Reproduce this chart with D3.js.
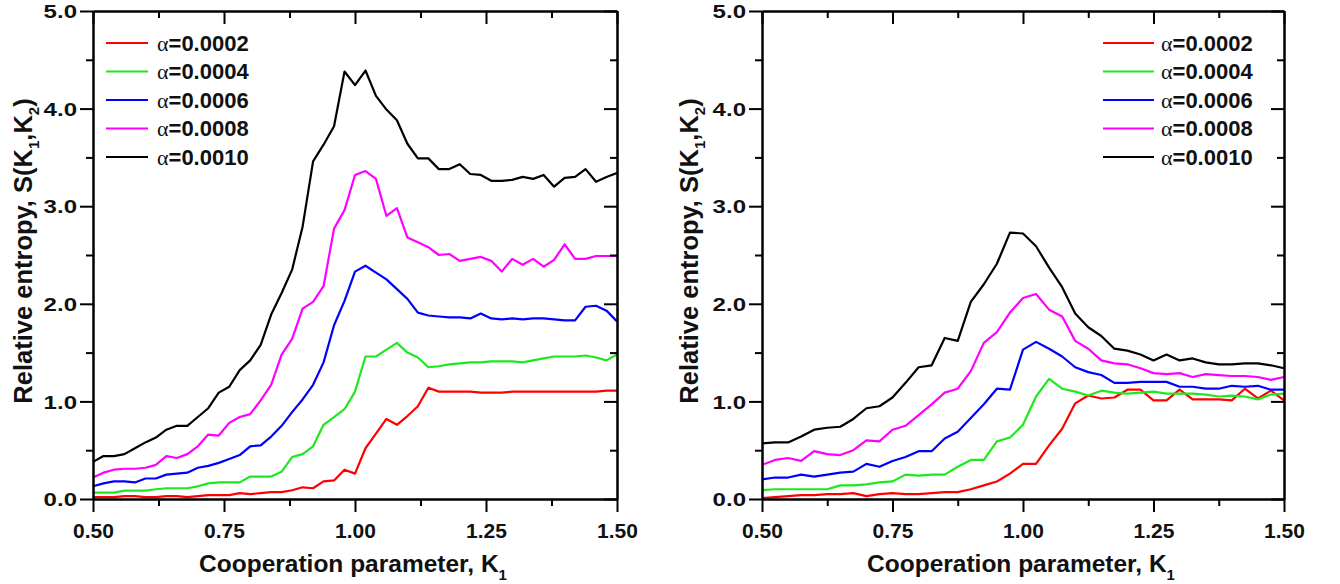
<!DOCTYPE html>
<html lang="en">
<head>
<meta charset="utf-8">
<title>Relative entropy</title>
<script src="https://cdn.jsdelivr.net/npm/d3@7"></script>
<style>
  body { margin: 0; background: #fff; }
  text { font-family: Arial, "Liberation Sans", sans-serif; font-weight: bold; fill: #111; }
</style>
</head>
<body>
<svg id="chart" width="1340" height="584"></svg>
<script>
// cooperation parameter grids (left panel: 0.02 steps, right panel: 0.025 steps)
var kLeft = [0.50,0.52,0.54,0.56,0.58,0.60,0.62,0.64,0.66,0.68,
             0.70,0.72,0.74,0.76,0.78,0.80,0.82,0.84,0.86,0.88,
             0.90,0.92,0.94,0.96,0.98,1.00,1.02,1.04,1.06,1.08,
             1.10,1.12,1.14,1.16,1.18,1.20,1.22,1.24,1.26,1.28,
             1.30,1.32,1.34,1.36,1.38,1.40,1.42,1.44,1.46,1.48,1.50];
var kRight = [0.500,0.525,0.550,0.575,0.600,0.625,0.650,0.675,0.700,0.725,
              0.750,0.775,0.800,0.825,0.850,0.875,0.900,0.925,0.950,0.975,
              1.000,1.025,1.050,1.075,1.100,1.125,1.150,1.175,1.200,1.225,
              1.250,1.275,1.300,1.325,1.350,1.375,1.400,1.425,1.450,1.475,1.500];

var alphas = ["0.0002", "0.0004", "0.0006", "0.0008", "0.0010"];
var colors = ["#ff0000", "#1ee81e", "#0000ff", "#ff00ff", "#000000"];

// left panel
var left0002 = [0.02,0.02,0.02,0.03,0.03,0.02,0.02,0.03,0.03,0.02,
                0.03,0.04,0.04,0.04,0.06,0.05,0.06,0.07,0.07,0.09,
                0.12,0.11,0.18,0.19,0.30,0.26,0.52,0.67,0.82,0.76,
                0.85,0.95,1.14,1.10,1.10,1.10,1.10,1.09,1.09,1.09,
                1.10,1.10,1.10,1.10,1.10,1.10,1.10,1.10,1.10,1.11,1.11];
var left0004 = [0.065,0.065,0.065,0.085,0.085,0.085,0.10,0.11,0.11,0.11,
                0.13,0.16,0.17,0.17,0.17,0.23,0.23,0.23,0.28,0.43,
                0.46,0.54,0.76,0.84,0.92,1.10,1.46,1.46,1.53,1.60,
                1.50,1.45,1.35,1.36,1.38,1.39,1.40,1.40,1.41,1.41,
                1.41,1.40,1.42,1.44,1.46,1.46,1.46,1.47,1.45,1.42,1.48];
var left0006 = [0.13,0.16,0.18,0.18,0.17,0.21,0.21,0.25,0.26,0.27,
                0.32,0.34,0.37,0.41,0.45,0.54,0.55,0.64,0.75,0.89,
                1.02,1.17,1.40,1.78,2.03,2.33,2.39,2.32,2.25,2.15,
                2.05,1.91,1.88,1.87,1.86,1.86,1.85,1.90,1.85,1.84,
                1.85,1.84,1.85,1.85,1.84,1.83,1.83,1.97,1.98,1.93,1.82];
var left0008 = [0.22,0.27,0.30,0.31,0.31,0.32,0.35,0.44,0.42,0.46,
                0.54,0.66,0.65,0.78,0.84,0.87,1.01,1.17,1.48,1.64,
                1.95,2.02,2.18,2.77,2.96,3.32,3.36,3.28,2.90,2.98,
                2.68,2.63,2.58,2.50,2.51,2.44,2.46,2.48,2.44,2.33,
                2.46,2.40,2.46,2.38,2.45,2.61,2.46,2.46,2.49,2.49,2.49];
var left0010 = [0.38,0.44,0.44,0.46,0.52,0.58,0.63,0.71,0.75,0.75,
                0.84,0.93,1.09,1.15,1.32,1.42,1.58,1.89,2.11,2.35,
                2.79,3.46,3.63,3.82,4.38,4.24,4.39,4.13,3.99,3.88,
                3.64,3.49,3.49,3.38,3.38,3.43,3.33,3.32,3.26,3.26,
                3.27,3.30,3.28,3.32,3.20,3.29,3.30,3.38,3.25,3.30,3.34];

// right panel
var right0002 = [0.01,0.02,0.03,0.04,0.04,0.05,0.05,0.06,0.03,0.05,
                 0.06,0.05,0.05,0.06,0.07,0.07,0.10,0.14,0.18,0.26,
                 0.36,0.36,0.55,0.72,0.98,1.06,1.03,1.04,1.12,1.12,
                 1.01,1.01,1.12,1.02,1.02,1.02,1.01,1.13,1.03,1.11,1.01];
var right0004 = [0.09,0.10,0.10,0.10,0.10,0.10,0.14,0.14,0.15,0.17,
                 0.18,0.25,0.24,0.25,0.25,0.33,0.40,0.40,0.59,0.63,
                 0.76,1.05,1.23,1.13,1.10,1.06,1.11,1.09,1.08,1.09,
                 1.10,1.08,1.08,1.08,1.07,1.05,1.06,1.05,1.02,1.07,1.08];
var right0006 = [0.20,0.22,0.22,0.25,0.23,0.25,0.27,0.28,0.36,0.33,
                 0.39,0.43,0.49,0.49,0.62,0.69,0.83,0.97,1.13,1.12,
                 1.53,1.61,1.54,1.46,1.35,1.30,1.27,1.19,1.19,1.20,
                 1.20,1.20,1.15,1.15,1.13,1.13,1.16,1.15,1.16,1.12,1.12];
var right0008 = [0.35,0.40,0.42,0.39,0.49,0.46,0.45,0.50,0.60,0.59,
                 0.71,0.75,0.86,0.97,1.09,1.13,1.31,1.60,1.71,1.91,
                 2.06,2.10,1.94,1.87,1.62,1.54,1.42,1.39,1.38,1.34,
                 1.29,1.28,1.29,1.25,1.28,1.27,1.26,1.26,1.25,1.22,1.25];
var right0010 = [0.57,0.58,0.58,0.64,0.71,0.73,0.74,0.82,0.93,0.95,
                 1.04,1.19,1.35,1.37,1.65,1.62,2.02,2.20,2.41,2.73,
                 2.72,2.59,2.37,2.17,1.90,1.76,1.67,1.54,1.52,1.48,
                 1.42,1.48,1.42,1.44,1.40,1.38,1.38,1.39,1.39,1.37,1.34];

var xMajor = [0.50, 0.75, 1.00, 1.25, 1.50];
var xMinor = [0.625, 0.875, 1.125, 1.375];
var yMajor = [0, 1, 2, 3, 4, 5];
var yMinor = [0.5, 1.5, 2.5, 3.5, 4.5];

var svg = d3.select("#chart");
var top0 = 11, bottom0 = 499;

function drawPanel(p) {
    var g = svg.append("g");
    var x = d3.scaleLinear().domain([0.5, 1.5]).range([p.x0, p.x1]);
    var y = d3.scaleLinear().domain([0, 5]).range([bottom0, top0]);

    var line = d3.line()
        .x(function (d) { return x(d[0]); })
        .y(function (d) { return y(d[1]); });

    p.series.forEach(function (s, i) {
        g.append("path")
            .datum(p.k.map(function (k, j) { return [k, s[j]]; }))
            .attr("d", line)
            .attr("fill", "none")
            .attr("stroke", colors[i])
            .attr("stroke-width", 2.2)
            .attr("stroke-linejoin", "round");
    });

    // frame + ticks (bottom/left outward, top/right inward)
    function ax(axis, tr) {
        var a = g.append("g").attr("transform", tr).call(axis);
        a.selectAll("path, line").attr("stroke", "#000").attr("stroke-width", 2);
        return a;
    }
    var bx = ax(d3.axisBottom(x).tickValues(xMajor).tickSize(13).tickSizeOuter(0)
        .tickFormat(d3.format(".2f")), "translate(0," + bottom0 + ")");
    bx.selectAll("text").attr("y", 38.7).attr("dy", null)
        .style("font-size", "21px").style("font-family", "Arial, 'Liberation Sans', sans-serif")
        .style("font-weight", "bold").attr("fill", "#111");
    ax(d3.axisBottom(x).tickValues(xMinor).tickSize(7).tickSizeOuter(0).tickFormat(""),
        "translate(0," + bottom0 + ")");
    ax(d3.axisTop(x).tickValues(xMajor).tickSize(-13).tickSizeOuter(0).tickFormat(""),
        "translate(0," + top0 + ")");
    ax(d3.axisTop(x).tickValues(xMinor).tickSize(-7).tickSizeOuter(0).tickFormat(""),
        "translate(0," + top0 + ")");

    var ly = ax(d3.axisLeft(y).tickValues(yMajor).tickSize(13).tickSizeOuter(0)
        .tickFormat(d3.format(".1f")), "translate(" + p.x0 + ",0)");
    ly.selectAll("text")
        .attr("x", -16 / 1.3).attr("dy", "0.36em")
        .attr("transform", "scale(1.3,1)")
        .style("font-size", "18.5px").style("font-family", "Arial, 'Liberation Sans', sans-serif")
        .style("font-weight", "bold").attr("fill", "#111");
    ax(d3.axisLeft(y).tickValues(yMinor).tickSize(7).tickSizeOuter(0).tickFormat(""),
        "translate(" + p.x0 + ",0)");
    ax(d3.axisRight(y).tickValues(yMajor).tickSize(-13).tickSizeOuter(0).tickFormat(""),
        "translate(" + p.x1 + ",0)");
    ax(d3.axisRight(y).tickValues(yMinor).tickSize(-7).tickSizeOuter(0).tickFormat(""),
        "translate(" + p.x1 + ",0)");

    // axis titles
    var xt = g.append("text")
        .attr("x", (p.x0 + p.x1) / 2 - 2).attr("y", 571.7)
        .attr("text-anchor", "middle")
        .style("font-size", "24.5px");
    xt.append("tspan").text("Cooperation parameter, K");
    xt.append("tspan").attr("dy", 8).style("font-size", "15px").text("1");

    var yt = g.append("text")
        .attr("transform", "translate(" + p.yTitleX + ",251) rotate(-90)")
        .attr("text-anchor", "middle")
        .style("font-size", "25.5px");
    yt.append("tspan").text("Relative entropy, S(K");
    yt.append("tspan").attr("dy", 7).style("font-size", "15px").text("1");
    yt.append("tspan").attr("dy", -7).text(",K");
    yt.append("tspan").attr("dy", 7).style("font-size", "15px").text("2");
    yt.append("tspan").attr("dy", -7).text(")");

    // legend
    alphas.forEach(function (a, i) {
        var ry = 43 + i * 28.5;
        g.append("line")
            .attr("x1", p.legX0).attr("x2", p.legX1)
            .attr("y1", ry).attr("y2", ry)
            .attr("stroke", colors[i]).attr("stroke-width", 2.2);
        var t = g.append("text").attr("x", p.legText).attr("y", ry + 7.5)
            .style("font-size", "22px");
        t.append("tspan").style("font-family", "'Liberation Serif', serif")
            .style("font-weight", "normal").text("α");
        t.append("tspan").text("=" + a);
    });
}

drawPanel({
    x0: 93, x1: 617, k: kLeft,
    series: [left0002, left0004, left0006, left0008, left0010],
    yTitleX: 32, legX0: 106, legX1: 148, legText: 157
});
drawPanel({
    x0: 762, x1: 1284, k: kRight,
    series: [right0002, right0004, right0006, right0008, right0010],
    yTitleX: 698, legX0: 1103, legX1: 1154, legText: 1161
});
</script>
</body>
</html>
